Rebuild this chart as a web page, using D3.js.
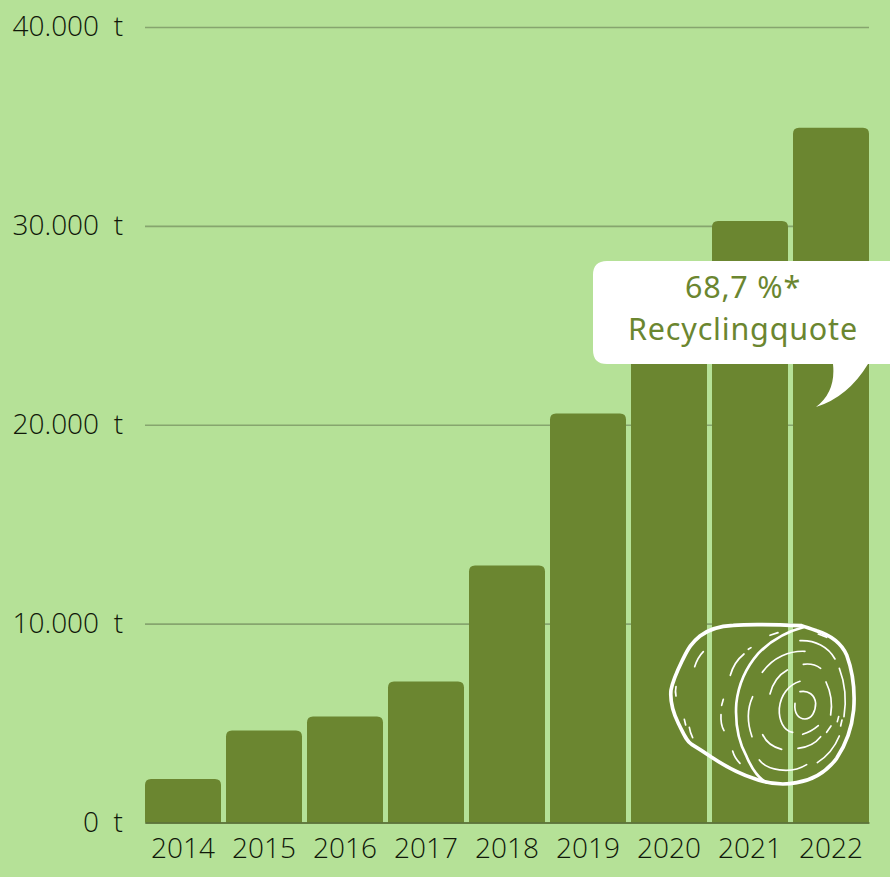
<!DOCTYPE html>
<html>
<head>
<meta charset="utf-8">
<script src="https://cdn.jsdelivr.net/npm/d3@7"></script>
<style>
  html, body { margin: 0; padding: 0; background: #b5e197; overflow: hidden; }
  svg { display: block; }
  text { font-family: "Open Sans", sans-serif; font-weight: 300; }
</style>
</head>
<body>
<svg id="chart"></svg>
<script>
const years = [2014, 2015, 2016, 2017, 2018, 2019, 2020, 2021, 2022];
const tonnes = [2190, 4630, 5330, 7090, 12920, 20570, 25000, 30250, 34930];
const yTicks = [0, 10000, 20000, 30000, 40000];
const calloutLines = ["68,7 %*", "Recyclingquote"];

const width = 890, height = 877;
const green = "#6b8630", white = "#ffffff", ink = "#10180a";

const svg = d3.select("#chart").attr("width", width).attr("height", height);

const x = d3.scaleBand().domain(years).range([145, 869]).paddingInner(5 / 81);
const y = d3.scaleLinear().domain([0, 40000]).range([822.5, 27]);

// grid + y labels
svg.append("g")
    .attr("transform", "translate(145,0)")
    .call(d3.axisLeft(y)
        .tickValues(yTicks)
        .tickSize(-724)
        .tickPadding(22)
        .tickFormat(d => d3.format(",")(d).replace(/,/g, ".") + "\u00a0\u00a0t"))
    .call(g => g.select(".domain").remove())
    .call(g => g.selectAll(".tick line").attr("stroke", "#86a56e").attr("stroke-width", 1.7))
    .call(g => g.selectAll(".tick text").attr("font-size", 28).attr("fill", ink));

// bars, only top corners rounded
const r = 6;
svg.append("g").selectAll("path")
    .data(years)
    .join("path")
    .attr("fill", green)
    .attr("d", (d, i) => {
        const x0 = x(d), x1 = x0 + x.bandwidth(), t = y(tonnes[i]), b = y(0);
        return `M${x0},${b}V${t + r}Q${x0},${t} ${x0 + r},${t}H${x1 - r}Q${x1},${t} ${x1},${t + r}V${b}Z`;
    });

// baseline + year labels
svg.append("g")
    .attr("transform", "translate(0,822.5)")
    .call(d3.axisBottom(x).tickSize(0).tickPadding(16))
    .call(g => g.select(".domain").attr("stroke", "#55682f").attr("stroke-width", 1.5))
    .call(g => g.selectAll(".tick text").attr("font-size", 28).attr("fill", ink));

// callout
svg.append("path")
    .attr("fill", white)
    .attr("d", "M890,261H607Q593,261 593,275V350Q593,364 607,364H833Q836,392 816,407Q848,397 868,364H890Z");

svg.append("g").selectAll("text")
    .data(calloutLines)
    .join("text")
    .attr("x", 743)
    .attr("y", (d, i) => 298 + i * 42)
    .attr("text-anchor", "middle")
    .attr("font-size", 30.5)
    .attr("letter-spacing", 0.8)
    .style("font-family", "'Noto Sans', sans-serif")
    .style("font-weight", 400)
    .style("fill", green)
    .text(d => d);

// hay bale icon, traced in zoomed-in coordinates
const baleHeavy = [
    "M455,47C380,44 300,42 250,46C210,48 175,58 150,78C125,98 115,115 100,145C88,170 70,205 63,240C60,270 68,305 85,340C100,370 110,395 125,403C150,418 165,428 185,442C220,465 265,490 310,505C350,520 400,526 440,518C490,510 530,485 560,445C590,400 606,350 611,300C615,250 610,190 590,135C575,100 540,75 500,62C480,55 465,50 455,47Z"
];
const baleMedium = [
    "M460,52C410,65 360,95 325,130C290,170 265,225 259,280C255,340 265,395 290,440C305,475 325,505 350,518"
];
const baleThin = [
    "M435,280C432,310 445,327 465,327C485,327 497,305 497,280C495,255 475,240 450,245",
    "M450,214C415,225 392,255 388,295C386,330 400,362 428,367",
    "M412,180C385,195 368,220 360,252",
    "M465,124C420,122 370,140 337,187",
    "M450,92C495,90 535,110 555,147",
    "M460,163C480,160 498,165 512,175",
    "M528,216C542,245 548,280 542,315",
    "M568,175C585,220 590,270 582,320",
    "M308,260C292,295 292,340 306,380",
    "M338,374C348,395 370,412 395,418",
    "M444,415C470,412 495,402 512,380",
    "M458,373C475,368 492,358 505,347",
    "M530,367L543,348",
    "M502,458C530,440 555,410 568,378",
    "M328,450C350,480 420,495 470,464",
    "M248,423C252,438 260,450 270,460",
    "M213,314C212,330 215,350 222,362",
    "M215,286L220,268",
    "M241,196C248,170 262,148 282,132",
    "M295,118L303,113",
    "M360,76L384,68",
    "M134,170C140,152 150,135 160,125",
    "M78,230C76,240 76,250 78,258",
    "M103,328L107,345",
    "M118,352C120,365 124,375 128,383",
    "M562,335L566,320M572,348L576,330",
    "M505,72L530,82"
];
const bale = svg.append("g")
    .attr("transform", "translate(650,610) scale(0.3333)")
    .attr("fill", "none")
    .attr("stroke", white)
    .attr("stroke-linecap", "round");
bale.selectAll(".heavy").data(baleHeavy).join("path").attr("class", "heavy").attr("d", d => d).attr("stroke-width", 11);
bale.selectAll(".medium").data(baleMedium).join("path").attr("class", "medium").attr("d", d => d).attr("stroke-width", 8);
bale.selectAll(".thin").data(baleThin).join("path").attr("class", "thin").attr("d", d => d).attr("stroke-width", 5);
</script>
</body>
</html>
